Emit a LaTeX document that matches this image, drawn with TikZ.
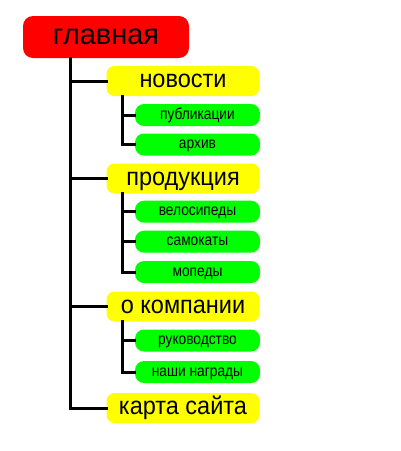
\documentclass[tikz,border=0pt]{standalone}
\usepackage{fontspec}
\setmainfont{Liberation Sans}
\begin{document}
\begin{tikzpicture}[x=1pt,y=-1pt,
  anybox/.style={inner sep=0pt,text depth=0pt},
  rootbox/.style={anybox,text height=15pt,fill={rgb,255:red,255;green,0;blue,0},rounded corners=10pt,minimum width=166pt,minimum height=42pt,font=\fontsize{29}{29}\selectfont},
  secbox/.style={anybox,text height=13pt,fill={rgb,255:red,255;green,255;blue,0},rounded corners=8pt,minimum width=153pt,minimum height=30pt,font=\fontsize{25}{25}\selectfont},
  leafbox/.style={anybox,text height=8.3pt,fill={rgb,255:red,0;green,255;blue,0},rounded corners=9pt,minimum width=125pt,minimum height=22pt,font=\fontsize{16}{16}\selectfont},
  link/.style={line width=3pt,black,line cap=rect}]
\useasboundingbox (0,0) rectangle (400,451);
\node[rootbox] (root) at (106,37) {главная};
\node[secbox] (nov) at (183,81) {\scalebox{0.94}[1]{новости}};
\node[leafbox] (pub) at (197.5,115) {\scalebox{0.86}[1]{публикации}};
\node[leafbox] (arh) at (197.5,144.5) {\scalebox{0.86}[1]{архив}};
\node[secbox] (prod) at (183,178.5) {\scalebox{0.94}[1]{продукция}};
\node[leafbox] (vel) at (197.5,211.7) {\scalebox{0.86}[1]{велосипеды}};
\node[leafbox] (sam) at (197.5,241.7) {\scalebox{0.86}[1]{самокаты}};
\node[leafbox] (mop) at (197.5,272) {\scalebox{0.86}[1]{мопеды}};
\node[secbox] (komp) at (183,306.5) {\scalebox{0.94}[1]{о компании}};
\node[leafbox] (ruk) at (197.5,340.5) {\scalebox{0.86}[1]{руководство}};
\node[leafbox] (nag) at (197.5,372) {\scalebox{0.86}[1]{наши награды}};
\node[secbox] (karta) at (183,408) {\scalebox{0.94}[1]{карта сайта}};
\coordinate (trunk) at (70,0);
\draw[link] (root.south -| trunk) |- (karta.west);
\draw[link] (trunk |- nov) -- (nov.west);
\draw[link] (trunk |- prod) -- (prod.west);
\draw[link] (trunk |- komp) -- (komp.west);
\draw[link] ([xshift=16pt]nov.south west) |- (arh.west);
\draw[link] ([xshift=16pt]nov.south west |- pub) -- (pub.west);
\draw[link] ([xshift=16pt]prod.south west) |- (mop.west);
\draw[link] ([xshift=16pt]prod.south west |- vel) -- (vel.west);
\draw[link] ([xshift=16pt]prod.south west |- sam) -- (sam.west);
\draw[link] ([xshift=16pt]komp.south west) |- (nag.west);
\draw[link] ([xshift=16pt]komp.south west |- ruk) -- (ruk.west);
\end{tikzpicture}
\end{document}
